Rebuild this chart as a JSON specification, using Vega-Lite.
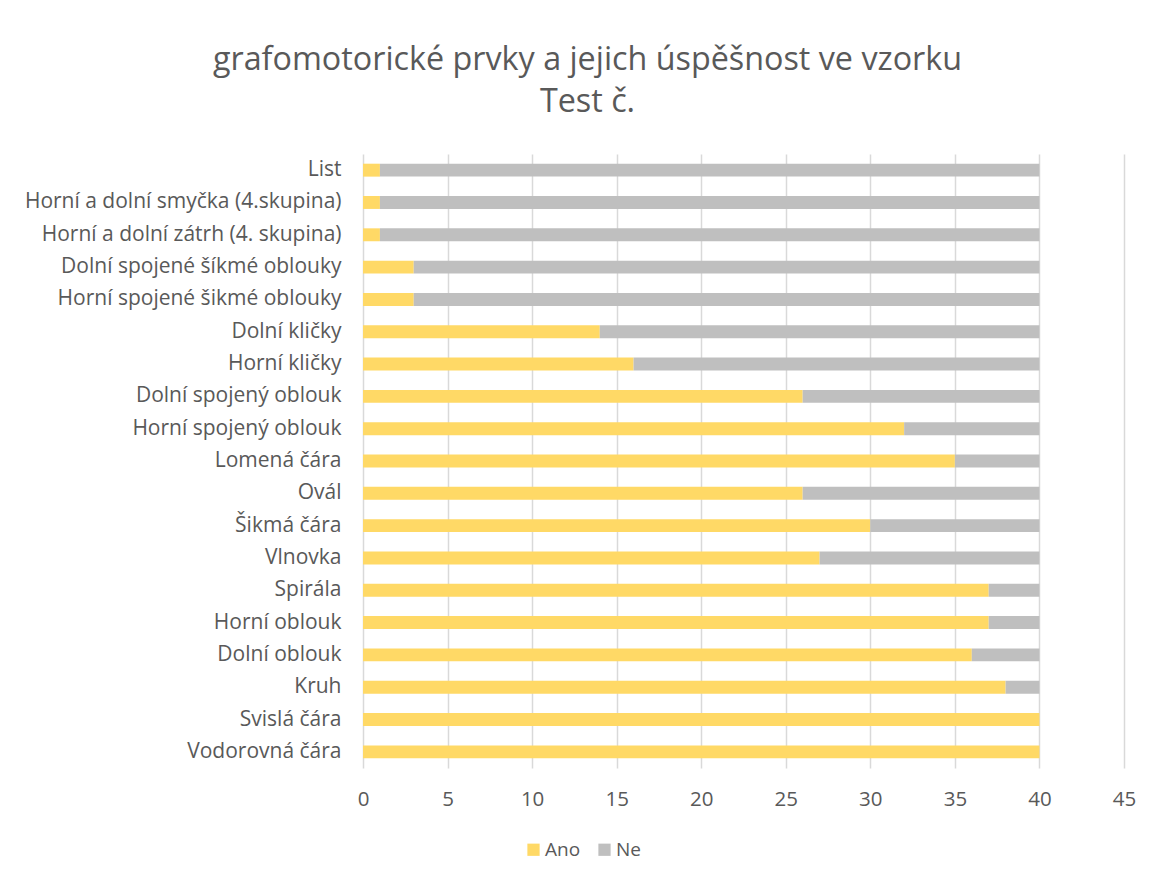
{
  "$schema": "https://vega.github.io/schema/vega-lite/v6.json",
  "width": 761,
  "height": 614,
  "autosize": "none",
  "padding": {"left": 363, "top": 154, "right": 29, "bottom": 115},
  "background": "white",
  "config": {
    "font": "Open Sans",
    "view": {"stroke": null}
  },
  "title": {
    "text": ["grafomotorické prvky a jejich úspěšnost ve vzorku", "Test č."],
    "fontSize": 32.3,
    "fontWeight": "normal",
    "color": "#595959",
    "anchor": "middle",
    "frame": "group",
    "dx": -156,
    "offset": 36,
    "lineHeight": 42
  },
  "data": {
    "values": [
      {"prvek": "List", "serie": "Ano", "pocet": 1},
      {"prvek": "List", "serie": "Ne", "pocet": 39},
      {"prvek": "Horní a dolní smyčka (4.skupina)", "serie": "Ano", "pocet": 1},
      {"prvek": "Horní a dolní smyčka (4.skupina)", "serie": "Ne", "pocet": 39},
      {"prvek": "Horní a dolní zátrh (4. skupina)", "serie": "Ano", "pocet": 1},
      {"prvek": "Horní a dolní zátrh (4. skupina)", "serie": "Ne", "pocet": 39},
      {"prvek": "Dolní spojené šíkmé oblouky", "serie": "Ano", "pocet": 3},
      {"prvek": "Dolní spojené šíkmé oblouky", "serie": "Ne", "pocet": 37},
      {"prvek": "Horní spojené šikmé oblouky", "serie": "Ano", "pocet": 3},
      {"prvek": "Horní spojené šikmé oblouky", "serie": "Ne", "pocet": 37},
      {"prvek": "Dolní kličky", "serie": "Ano", "pocet": 14},
      {"prvek": "Dolní kličky", "serie": "Ne", "pocet": 26},
      {"prvek": "Horní kličky", "serie": "Ano", "pocet": 16},
      {"prvek": "Horní kličky", "serie": "Ne", "pocet": 24},
      {"prvek": "Dolní spojený oblouk", "serie": "Ano", "pocet": 26},
      {"prvek": "Dolní spojený oblouk", "serie": "Ne", "pocet": 14},
      {"prvek": "Horní spojený oblouk", "serie": "Ano", "pocet": 32},
      {"prvek": "Horní spojený oblouk", "serie": "Ne", "pocet": 8},
      {"prvek": "Lomená čára", "serie": "Ano", "pocet": 35},
      {"prvek": "Lomená čára", "serie": "Ne", "pocet": 5},
      {"prvek": "Ovál", "serie": "Ano", "pocet": 26},
      {"prvek": "Ovál", "serie": "Ne", "pocet": 14},
      {"prvek": "Šikmá čára", "serie": "Ano", "pocet": 30},
      {"prvek": "Šikmá čára", "serie": "Ne", "pocet": 10},
      {"prvek": "Vlnovka", "serie": "Ano", "pocet": 27},
      {"prvek": "Vlnovka", "serie": "Ne", "pocet": 13},
      {"prvek": "Spirála", "serie": "Ano", "pocet": 37},
      {"prvek": "Spirála", "serie": "Ne", "pocet": 3},
      {"prvek": "Horní oblouk", "serie": "Ano", "pocet": 37},
      {"prvek": "Horní oblouk", "serie": "Ne", "pocet": 3},
      {"prvek": "Dolní oblouk", "serie": "Ano", "pocet": 36},
      {"prvek": "Dolní oblouk", "serie": "Ne", "pocet": 4},
      {"prvek": "Kruh", "serie": "Ano", "pocet": 38},
      {"prvek": "Kruh", "serie": "Ne", "pocet": 2},
      {"prvek": "Svislá čára", "serie": "Ano", "pocet": 40},
      {"prvek": "Svislá čára", "serie": "Ne", "pocet": 0},
      {"prvek": "Vodorovná čára", "serie": "Ano", "pocet": 40},
      {"prvek": "Vodorovná čára", "serie": "Ne", "pocet": 0}
    ]
  },
  "mark": {"type": "bar"},
  "encoding": {
    "y": {
      "field": "prvek",
      "type": "nominal",
      "sort": null,
      "scale": {"paddingInner": 0.6, "paddingOuter": 0.3},
      "axis": {
        "title": null,
        "ticks": false,
        "domain": false,
        "labelFontSize": 21,
        "labelColor": "#595959",
        "labelPadding": 22,
        "labelLimit": 400
      }
    },
    "x": {
      "field": "pocet",
      "type": "quantitative",
      "stack": "zero",
      "scale": {"domain": [0, 45], "nice": false},
      "axis": {
        "title": null,
        "values": [0, 5, 10, 15, 20, 25, 30, 35, 40, 45],
        "ticks": false,
        "domain": false,
        "grid": true,
        "gridColor": "#d9d9d9",
        "gridWidth": 1.5,
        "labelFontSize": 20.5,
        "labelColor": "#595959",
        "labelPadding": 21,
        "labelFlush": false
      }
    },
    "color": {
      "field": "serie",
      "type": "nominal",
      "scale": {"domain": ["Ano", "Ne"], "range": ["#FFD966", "#BFBFBF"]},
      "legend": {
        "title": null,
        "orient": "none",
        "direction": "horizontal",
        "legendX": 161,
        "legendY": 686,
        "symbolType": "square",
        "symbolSize": 150,
        "symbolStrokeWidth": 0,
        "labelFontSize": 19,
        "labelColor": "#595959",
        "columnPadding": 14,
        "labelOffset": 2
      }
    },
    "order": {"field": "serie", "sort": "ascending"}
  }
}
